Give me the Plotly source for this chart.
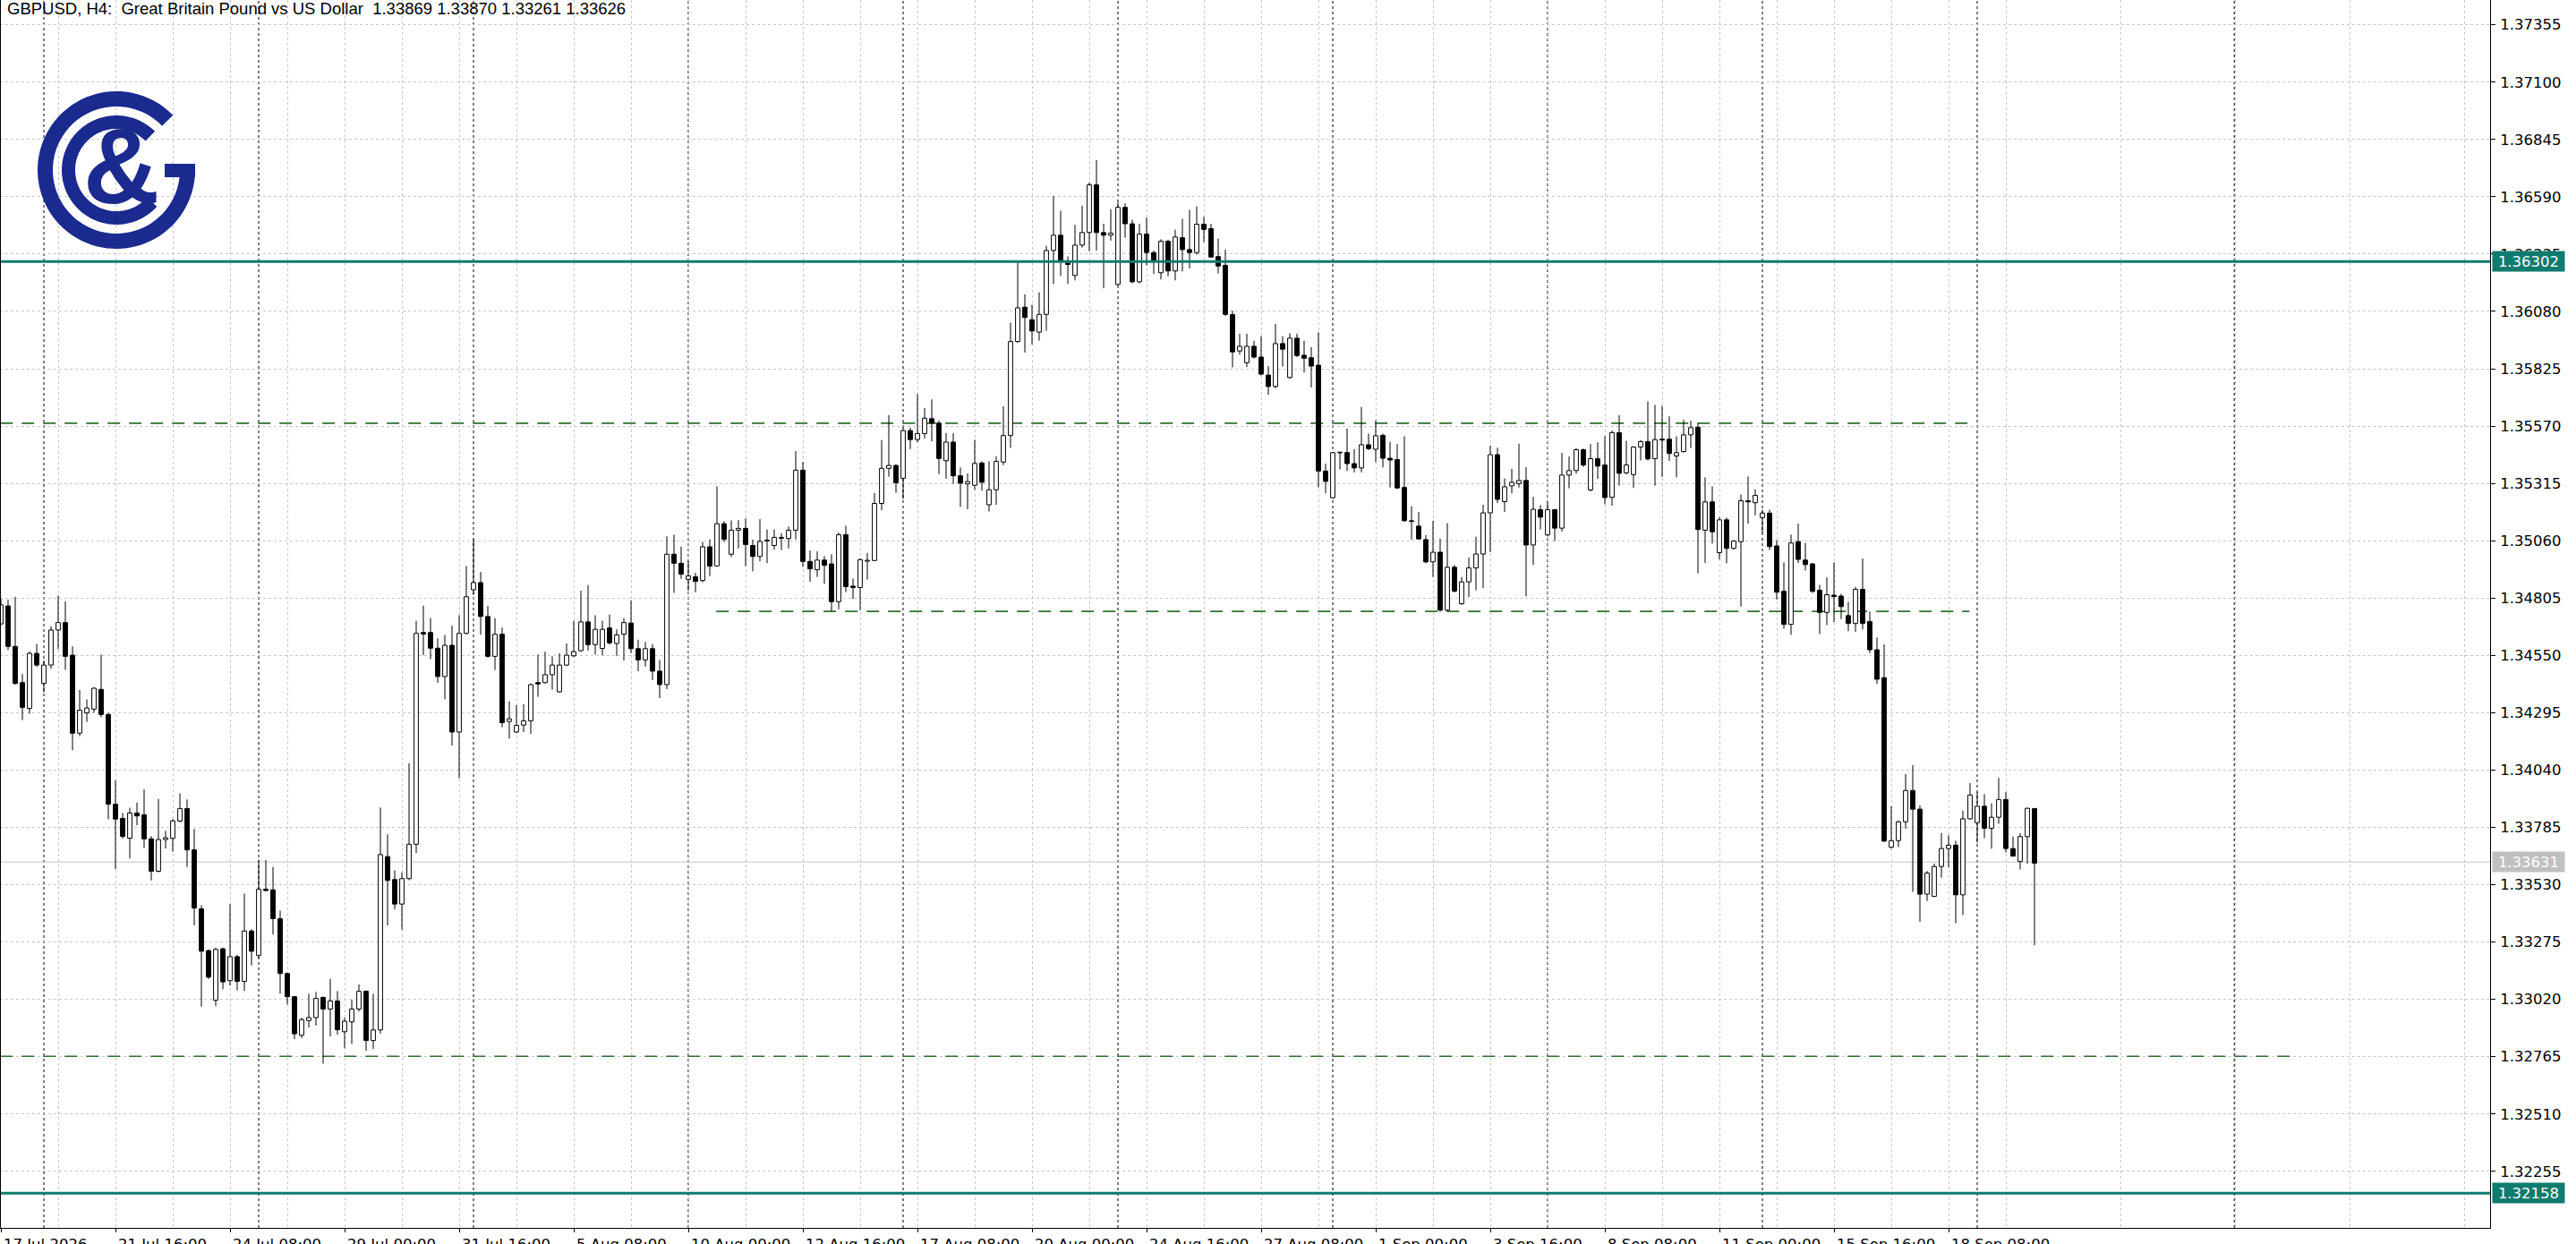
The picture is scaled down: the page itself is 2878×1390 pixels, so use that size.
import plotly.graph_objects as go
import numpy as np

# ---------------- data (GBPUSD H4) ----------------
opens = [1.34690,1.34770,1.34590,1.34429,1.34314,1.34559,1.34425,1.34507,1.34663,1.34696,
1.34551,1.34204,1.34294,1.34311,1.34399,1.34287,1.33888,1.33825,1.33737,1.33849,
1.33841,1.33734,1.33590,1.33731,1.33736,1.33813,1.33869,1.33685,1.33423,1.33237,
1.33016,1.33245,1.33103,1.33210,1.33100,1.33324,1.33215,1.33510,1.33507,1.33379,
1.33135,1.33032,1.32860,1.32926,1.32939,1.33029,1.32977,1.33013,1.32876,1.32920,
1.32977,1.33056,1.32837,1.32884,1.33655,1.33553,1.33444,1.33557,1.33710,1.34652,
1.34652,1.34582,1.34456,1.34595,1.34209,1.34648,1.34842,1.34874,1.34723,1.34546,
1.34644,1.34256,1.34209,1.34240,1.34259,1.34429,1.34429,1.34464,1.34388,1.34507,
1.34548,1.34571,1.34699,1.34598,1.34581,1.34672,1.34603,1.34644,1.34694,1.34580,
1.34530,1.34580,1.34480,1.34420,1.35000,1.34960,1.34888,1.34900,1.34883,1.35033,
1.34948,1.35136,1.35000,1.35107,1.35115,1.35039,1.34990,1.35059,1.35039,1.35071,
1.35070,1.35107,1.35374,1.34968,1.34931,1.34974,1.34957,1.34789,1.35087,1.34858,
1.34852,1.34969,1.34972,1.35226,1.35382,1.35395,1.35338,1.35550,1.35510,1.35537,
1.35603,1.35583,1.35416,1.35499,1.35349,1.35313,1.35307,1.35406,1.35220,1.35287,
1.35410,1.35528,1.35946,1.36099,1.36043,1.35988,1.36067,1.36351,1.36419,1.36295,
1.36240,1.36375,1.36431,1.36643,1.36431,1.36419,1.36200,1.36543,1.36470,1.36212,
1.36424,1.36342,1.36252,1.36392,1.36260,1.36408,1.36355,1.36342,1.36468,1.36448,
1.36324,1.36285,1.36066,1.35904,1.35852,1.35925,1.35877,1.35797,1.35746,1.35937,
1.35786,1.35961,1.35885,1.35874,1.35841,1.35370,1.35251,1.35451,1.35452,1.35403,
1.35384,1.35487,1.35467,1.35529,1.35427,1.35421,1.35297,1.35149,1.35125,1.35065,
1.34966,1.35009,1.34751,1.34942,1.34780,1.34877,1.34939,1.35001,1.35184,1.35443,
1.35234,1.35304,1.35314,1.35328,1.35041,1.35198,1.35086,1.35198,1.35116,1.35352,
1.35372,1.35465,1.35286,1.35425,1.35397,1.35253,1.35541,1.35362,1.35354,1.35477,
1.35501,1.35425,1.35512,1.35512,1.35437,1.35457,1.35531,1.35565,1.35107,1.35233,
1.35007,1.35153,1.35026,1.35056,1.35238,1.35229,1.35163,1.35183,1.35037,1.34835,
1.34688,1.35056,1.34974,1.34957,1.34840,1.34741,1.34818,1.34814,1.34727,1.34692,
1.34844,1.34701,1.34575,1.34451,1.33697,1.33726,1.33810,1.33949,1.33866,1.33488,
1.33478,1.33611,1.33691,1.33706,1.33485,1.33823,1.33806,1.33879,1.33781,1.33830,
1.33909,1.33691,1.33633,1.33744,1.33869]
highs = [1.34803,1.34798,1.34811,1.34467,1.34567,1.34601,1.34527,1.34680,1.34816,1.34790,
1.34590,1.34396,1.34354,1.34409,1.34554,1.34295,1.33994,1.33849,1.33873,1.33896,
1.33955,1.33746,1.33912,1.33770,1.33822,1.33936,1.33909,1.33778,1.33439,1.33242,
1.33250,1.33250,1.33444,1.33218,1.33491,1.33332,1.33639,1.33639,1.33609,1.33415,
1.33139,1.33035,1.32939,1.33045,1.33053,1.33032,1.33111,1.33057,1.32939,1.33018,
1.33087,1.33060,1.33045,1.33873,1.33754,1.33594,1.33584,1.34070,1.34704,1.34771,
1.34716,1.34626,1.34641,1.34682,1.34729,1.34948,1.35066,1.34921,1.34770,1.34716,
1.34674,1.34346,1.34328,1.34333,1.34425,1.34554,1.34567,1.34546,1.34559,1.34603,
1.34704,1.34838,1.34863,1.34729,1.34704,1.34732,1.34666,1.34716,1.34795,1.34620,
1.34610,1.34600,1.34530,1.35080,1.35087,1.35034,1.34970,1.34917,1.35055,1.35066,
1.35302,1.35147,1.35151,1.35152,1.35159,1.35065,1.35156,1.35110,1.35110,1.35094,
1.35123,1.35459,1.35411,1.35017,1.35013,1.34992,1.35000,1.35096,1.35127,1.34892,
1.34981,1.35006,1.35272,1.35508,1.35619,1.35400,1.35567,1.35563,1.35713,1.35650,
1.35689,1.35595,1.35539,1.35539,1.35386,1.35360,1.35509,1.35413,1.35413,1.35436,
1.35658,1.36030,1.36298,1.36156,1.36110,1.36165,1.36372,1.36594,1.36528,1.36325,
1.36465,1.36550,1.36654,1.36753,1.36470,1.36534,1.36565,1.36561,1.36488,1.36470,
1.36497,1.36350,1.36401,1.36399,1.36444,1.36492,1.36532,1.36547,1.36501,1.36470,
1.36404,1.36355,1.36083,1.35981,1.35981,1.35950,1.35970,1.35837,1.36024,1.35970,
1.35983,1.35981,1.35950,1.35921,1.35987,1.35403,1.35455,1.35456,1.35560,1.35467,
1.35655,1.35536,1.35596,1.35536,1.35500,1.35490,1.35525,1.35214,1.35188,1.35085,
1.35149,1.35069,1.35138,1.34952,1.34899,1.34985,1.35078,1.35220,1.35483,1.35474,
1.35337,1.35380,1.35492,1.35387,1.35255,1.35218,1.35232,1.35200,1.35451,1.35435,
1.35472,1.35470,1.35490,1.35498,1.35525,1.35551,1.35618,1.35505,1.35480,1.35508,
1.35680,1.35664,1.35660,1.35614,1.35525,1.35598,1.35594,1.35581,1.35342,1.35302,
1.35165,1.35163,1.35063,1.35266,1.35346,1.35289,1.35198,1.35198,1.35063,1.34964,
1.35087,1.35136,1.35050,1.34961,1.34864,1.34897,1.34964,1.34824,1.34788,1.34855,
1.34981,1.34745,1.34630,1.34599,1.33879,1.33815,1.34022,1.34062,1.33883,1.33591,
1.33624,1.33760,1.33750,1.33726,1.33859,1.33982,1.33943,1.33933,1.33892,1.34005,
1.33943,1.33744,1.33760,1.33872,1.33870]
lows = [1.34685,1.34574,1.34420,1.34262,1.34291,1.34499,1.34385,1.34491,1.34578,1.34486,
1.34128,1.34191,1.34254,1.34295,1.34275,1.33821,1.33600,1.33735,1.33647,1.33795,
1.33694,1.33549,1.33585,1.33691,1.33677,1.33808,1.33609,1.33349,1.32988,1.33111,
1.32990,1.33065,1.33081,1.33060,1.33057,1.33171,1.33202,1.33502,1.33308,1.33045,
1.32997,1.32843,1.32848,1.32895,1.32903,1.32734,1.32855,1.32863,1.32803,1.32822,
1.32966,1.32791,1.32800,1.32868,1.33349,1.33420,1.33330,1.33550,1.33671,1.34551,
1.34533,1.34428,1.34355,1.34149,1.34004,1.34644,1.34819,1.34642,1.34540,1.34485,
1.34231,1.34180,1.34204,1.34209,1.34201,1.34366,1.34425,1.34398,1.34385,1.34503,
1.34543,1.34567,1.34571,1.34554,1.34551,1.34598,1.34548,1.34527,1.34560,1.34480,
1.34500,1.34440,1.34360,1.34400,1.34828,1.34891,1.34838,1.34831,1.34875,1.34903,
1.34945,1.35054,1.34988,1.35026,1.34947,1.34924,1.34968,1.34961,1.35020,1.35018,
1.35026,1.35066,1.34944,1.34878,1.34899,1.34868,1.34745,1.34755,1.34831,1.34801,
1.34751,1.34887,1.34970,1.35196,1.35345,1.35273,1.35246,1.35468,1.35498,1.35514,
1.35502,1.35356,1.35336,1.35313,1.35210,1.35200,1.35287,1.35283,1.35190,1.35220,
1.35396,1.35473,1.35940,1.35897,1.35933,1.35950,1.35994,1.36202,1.36238,1.36202,
1.36218,1.36364,1.36348,1.36351,1.36183,1.36395,1.36195,1.36408,1.36205,1.36205,
1.36285,1.36246,1.36222,1.36236,1.36218,1.36258,1.36271,1.36332,1.36388,1.36318,
1.36249,1.36060,1.35831,1.35888,1.35832,1.35870,1.35795,1.35709,1.35738,1.35835,
1.35780,1.35877,1.35808,1.35742,1.35297,1.35271,1.35248,1.35377,1.35370,1.35364,
1.35364,1.35463,1.35410,1.35386,1.35297,1.35290,1.35145,1.35065,1.35065,1.34960,
1.34899,1.34745,1.34747,1.34830,1.34775,1.34810,1.34840,1.34850,1.35009,1.35228,
1.35188,1.35271,1.35297,1.34813,1.34952,1.35110,1.35079,1.35059,1.35100,1.35293,
1.35358,1.35388,1.35280,1.35335,1.35222,1.35216,1.35305,1.35355,1.35295,1.35417,
1.35417,1.35305,1.35344,1.35415,1.35342,1.35452,1.35472,1.34915,1.34961,1.35047,
1.34977,1.34960,1.35021,1.34767,1.35136,1.35173,1.35094,1.35019,1.34798,1.34668,
1.34641,1.34961,1.34928,1.34828,1.34645,1.34685,1.34698,1.34712,1.34658,1.34654,
1.34665,1.34560,1.34424,1.33720,1.33690,1.33697,1.33779,1.33498,1.33365,1.33458,
1.33475,1.33561,1.33607,1.33359,1.33395,1.33820,1.33717,1.33737,1.33690,1.33801,
1.33673,1.33655,1.33598,1.33624,1.33261]
closes = [1.34775,1.34590,1.34425,1.34319,1.34559,1.34507,1.34507,1.34663,1.34696,1.34546,
1.34204,1.34306,1.34316,1.34404,1.34287,1.33888,1.33822,1.33745,1.33849,1.33836,
1.33734,1.33590,1.33731,1.33739,1.33814,1.33869,1.33685,1.33426,1.33234,1.33119,
1.33242,1.33098,1.33210,1.33100,1.33324,1.33234,1.33510,1.33504,1.33379,1.33135,
1.33032,1.32867,1.32930,1.32939,1.33024,1.32977,1.33013,1.32885,1.32923,1.32977,
1.33056,1.32837,1.32884,1.33664,1.33549,1.33444,1.33557,1.33710,1.34648,1.34645,
1.34582,1.34456,1.34595,1.34209,1.34648,1.34811,1.34874,1.34723,1.34546,1.34644,
1.34251,1.34268,1.34239,1.34259,1.34420,1.34423,1.34464,1.34507,1.34507,1.34551,
1.34567,1.34699,1.34598,1.34666,1.34666,1.34606,1.34641,1.34696,1.34580,1.34530,
1.34580,1.34480,1.34420,1.35000,1.34960,1.34911,1.34904,1.34879,1.35033,1.34947,
1.35136,1.35066,1.35107,1.35115,1.35043,1.34990,1.35057,1.35063,1.35075,1.35075,
1.35107,1.35374,1.34968,1.34935,1.34974,1.34951,1.34789,1.35087,1.34856,1.34852,
1.34976,1.34973,1.35226,1.35382,1.35395,1.35318,1.35550,1.35510,1.35537,1.35605,
1.35583,1.35426,1.35499,1.35349,1.35316,1.35323,1.35404,1.35320,1.35287,1.35413,
1.35528,1.35946,1.36096,1.36053,1.35993,1.36067,1.36351,1.36419,1.36306,1.36289,
1.36375,1.36431,1.36643,1.36431,1.36419,1.36428,1.36543,1.36470,1.36212,1.36424,
1.36342,1.36305,1.36392,1.36260,1.36411,1.36355,1.36342,1.36468,1.36445,1.36322,
1.36282,1.36067,1.35900,1.35925,1.35925,1.35877,1.35801,1.35746,1.35937,1.35912,
1.35961,1.35884,1.35872,1.35837,1.35370,1.35324,1.35452,1.35454,1.35403,1.35384,
1.35487,1.35470,1.35527,1.35427,1.35419,1.35295,1.35149,1.35146,1.35068,1.34966,
1.35009,1.34751,1.34942,1.34836,1.34877,1.34939,1.35001,1.35184,1.35443,1.35244,
1.35300,1.35320,1.35328,1.35041,1.35200,1.35165,1.35198,1.35116,1.35352,1.35372,
1.35465,1.35397,1.35425,1.35392,1.35252,1.35541,1.35360,1.35397,1.35477,1.35501,
1.35424,1.35510,1.35508,1.35448,1.35452,1.35531,1.35563,1.35110,1.35233,1.35100,
1.35153,1.35026,1.35059,1.35238,1.35233,1.35262,1.35183,1.35034,1.34831,1.34688,
1.35050,1.34977,1.34954,1.34835,1.34741,1.34820,1.34812,1.34767,1.34692,1.34844,
1.34692,1.34575,1.34444,1.33724,1.33726,1.33810,1.33949,1.33866,1.33488,1.33582,
1.33611,1.33691,1.33706,1.33485,1.33823,1.33929,1.33879,1.33781,1.33830,1.33909,
1.33691,1.33657,1.33744,1.33870,1.33626]

date_labels = ["17 Jul 2026", "21 Jul 16:00", "24 Jul 08:00", "29 Jul 00:00", "31 Jul 16:00",
               "5 Aug 08:00", "10 Aug 00:00", "12 Aug 16:00", "17 Aug 08:00", "20 Aug 00:00",
               "24 Aug 16:00", "27 Aug 08:00", "1 Sep 00:00", "3 Sep 16:00", "8 Sep 08:00",
               "11 Sep 00:00", "15 Sep 16:00", "18 Sep 08:00"]
label_bars = [0, 16, 32, 48, 64, 80, 96, 112, 128, 144, 160, 176, 192, 208, 224, 240, 256, 272]
week_start_bars = [6, 36, 66, 96, 126, 156, 186, 216, 246, 276]
marker_vline_bar = 311.9

price_ticks = [1.37355, 1.37100, 1.36845, 1.36590, 1.36335, 1.36080, 1.35825, 1.35570, 1.35315,
               1.35060, 1.34805, 1.34550, 1.34295, 1.34040, 1.33785, 1.33530, 1.33275, 1.33020,
               1.32765, 1.32510, 1.32255]

resistance_level = 1.36302
support_level = 1.32158
bid_price = 1.33631
header_text = "GBPUSD, H4:  Great Britain Pound vs US Dollar  1.33869 1.33870 1.33261 1.33626"

# dashed trend/level lines: (price, start bar, end bar)
dashed_levels = [(1.35583, -0.1, 274.9), (1.34746, 99.9, 274.9), (1.32767, -0.1, 320.0)]

# ---------------- layout geometry ----------------
W, H = 2878, 1390
PLOT_R = 2782
PLOT_B = 1372
X0, X1 = -0.125, -0.125 + PLOT_R / 8.0
Y_TOP, Y_BOT = 1.374653, 1.320035
TEAL = "#0f7b6f"
NAVY = "#1b2a8e"
AXIS_FONT = 16.5

n = len(opens)
idx = list(range(n))
body_base = [min(o, c) for o, c in zip(opens, closes)]
body_h = [max(abs(c - o), 0.000008) for o, c in zip(opens, closes)]
body_col = ["white" if c >= o else "black" for o, c in zip(opens, closes)]

wx, wy = [], []
for i, o, h, l, c in zip(idx, opens, highs, lows, closes):
    top, bot = max(o, c), min(o, c)
    wx += [i, i, None, i, i, None]
    wy += [max(h, top), top, None, bot, min(l, bot), None]

fig = go.Figure()
fig.add_trace(go.Scatter(x=wx, y=wy, mode="lines", line=dict(color="black", width=1),
                         hoverinfo="skip", showlegend=False))
fig.add_trace(go.Bar(x=idx, y=body_h, base=body_base, width=0.6,
                     marker=dict(color=body_col, line=dict(color="black", width=1)),
                     hoverinfo="skip", showlegend=False))

def px2paper_x(px):
    return px / W

def px2paper_y(py):
    return 1 - py / H

shapes = []
y_dom0 = px2paper_y(PLOT_B)
# weekly separators + marker line
for b in week_start_bars + [marker_vline_bar]:
    shapes.append(dict(type="line", xref="x", yref="paper", x0=b, x1=b, y0=y_dom0, y1=1,
                       line=dict(color="black", width=1, dash="3px,3px"), layer="between"))
# dashed green levels
for p, b0, b1 in dashed_levels:
    shapes.append(dict(type="line", xref="x", yref="y", x0=b0, x1=b1, y0=p, y1=p,
                       line=dict(color="#2f6f2f", width=1.6, dash="14px,10px"), layer="between"))
# bid line
shapes.append(dict(type="line", xref="paper", yref="y", x0=0, x1=px2paper_x(PLOT_R),
                   y0=bid_price, y1=bid_price, line=dict(color="#c4c4c4", width=1), layer="between"))
# S/R lines
for p in (resistance_level, support_level):
    shapes.append(dict(type="line", xref="paper", yref="y", x0=0, x1=px2paper_x(PLOT_R),
                       y0=p, y1=p, line=dict(color=TEAL, width=3)))
# left border
shapes.append(dict(type="line", xref="paper", yref="paper", x0=px2paper_x(0.5), x1=px2paper_x(0.5),
                   y0=y_dom0, y1=1, line=dict(color="black", width=1)))

# ---- logo (decorative) ----
cx, cy = 130, 190
def ring_path(r_out, r_in, a0, a1, steps=90):
    a = np.radians(np.linspace(a0, a1, steps))
    pts = [(cx + r_out * np.cos(t), cy - r_out * np.sin(t)) for t in a]
    pts += [(cx + r_in * np.cos(t), cy - r_in * np.sin(t)) for t in a[::-1]]
    return "M " + " L ".join(f"{px2paper_x(x):.6f},{px2paper_y(y):.6f}" for x, y in pts) + " Z"

def rect_path(x0, y0, x1, y1):
    pts = [(x0, y0), (x1, y0), (x1, y1), (x0, y1)]
    return "M " + " L ".join(f"{px2paper_x(x):.6f},{px2paper_y(y):.6f}" for x, y in pts) + " Z"

logo_paths = [ring_path(88, 71, 44, 364), ring_path(61, 46, 45, 318),
              rect_path(184, 183, 218, 198)]
for pth in logo_paths:
    shapes.append(dict(type="path", xref="paper", yref="paper", path=pth,
                       fillcolor=NAVY, line=dict(width=0)))

annotations = []
annotations.append(dict(text="<b>&</b>", xref="paper", yref="paper", x=px2paper_x(135), y=px2paper_y(186),
                        xanchor="center", yanchor="middle", showarrow=False,
                        font=dict(family="Liberation Sans", size=118, color=NAVY)))
annotations.append(dict(text=header_text, xref="paper", yref="paper", x=px2paper_x(6), y=px2paper_y(-3),
                        xanchor="left", yanchor="top", showarrow=False,
                        font=dict(family="Liberation Sans", size=18.5, color="black")))
for lab, b in zip(date_labels, label_bars):
    annotations.append(dict(text=lab, xref="x", yref="paper", x=b, y=px2paper_y(1379),
                            xanchor="left", yanchor="top", xshift=1, showarrow=False,
                            font=dict(family="DejaVu Sans", size=AXIS_FONT, color="black")))
for p, col in ((resistance_level, TEAL), (bid_price, "#c0c0c0"), (support_level, TEAL)):
    annotations.append(dict(text=f"{p:.5f}", xref="paper", yref="y", x=px2paper_x(2825), y=p,
                            xanchor="center", yanchor="middle", showarrow=False,
                            width=80, height=22, bgcolor=col, borderpad=0,
                            font=dict(family="DejaVu Sans", size=AXIS_FONT, color="white")))

fig.update_layout(
    width=W, height=H, margin=dict(l=0, r=0, t=0, b=0),
    paper_bgcolor="white", plot_bgcolor="white",
    barmode="overlay", hovermode=False, showlegend=False,
    shapes=shapes, annotations=annotations,
    xaxis=dict(range=[X0, X1], domain=[0, px2paper_x(PLOT_R)], tickmode="array",
               tickvals=label_bars, showticklabels=False, ticks="outside", ticklen=4,
               tickcolor="black", showgrid=True, gridcolor="#c8c8c8", griddash="3px,3px",
               gridwidth=1, zeroline=False, showline=True, linecolor="black", linewidth=1,
               minor=dict(tickmode="array", tickvals=list(range(8, 348, 16)), showgrid=True,
                          gridcolor="#c8c8c8", griddash="3px,3px", gridwidth=1, ticks=""),
               fixedrange=True),
    yaxis=dict(range=[Y_BOT, Y_TOP], domain=[y_dom0, 1], side="right", tickmode="array",
               tickvals=price_ticks, ticktext=[f"{p:.5f}" for p in price_ticks],
               ticks="outside", ticklen=5, tickcolor="black", ticklabelstandoff=2,
               tickfont=dict(family="DejaVu Sans", size=AXIS_FONT, color="black"),
               showgrid=True, gridcolor="#c8c8c8", griddash="3px,3px", gridwidth=1,
               zeroline=False, showline=True, linecolor="black", linewidth=1,
               automargin=False, fixedrange=True),
)
fig.write_html("out.html", config={"displayModeBar": False},
               post_script="document.body.style.margin='0px';document.body.style.overflow='hidden';")
